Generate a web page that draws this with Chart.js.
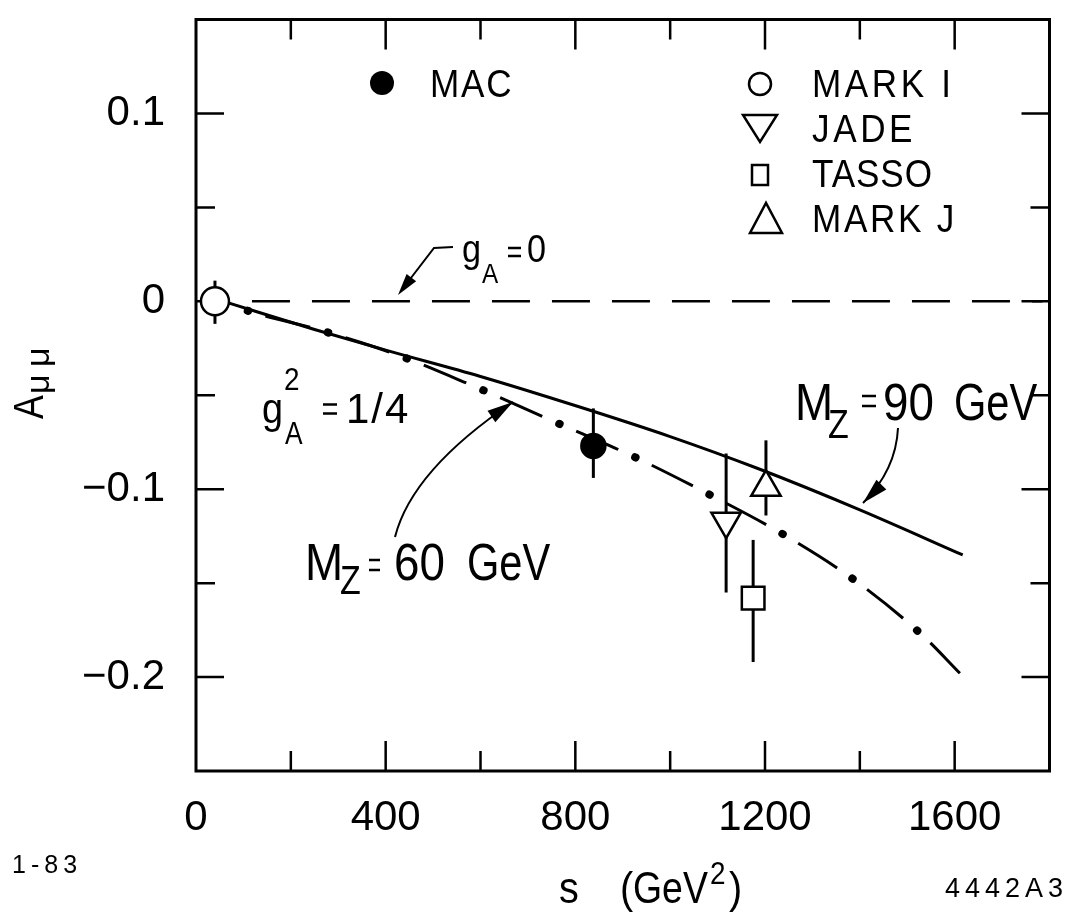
<!DOCTYPE html>
<html>
<head>
<meta charset="utf-8">
<script src="https://cdn.jsdelivr.net/npm/chart.js@4.4.1/dist/chart.umd.min.js"></script>
<style>
html, body { margin: 0; padding: 0; background: #fff; }
#wrap { width: 1069px; height: 915px; }
</style>
</head>
<body>
<div id="wrap"><canvas id="c"></canvas></div>
<script>
// axis ticks
var xTickVals = [0, 400, 800, 1200, 1600];
var xMinor = [200, 600, 1000, 1400];
var yTickVals = [0.1, 0, -0.1, -0.2];
var yMinor = [0.05, -0.05, -0.15];

var expNames = ['MARK I', 'MAC', 'JADE', 'TASSO', 'MARK J'];
var expS  = [40, 838, 1118, 1175, 1202];
var expA  = [0.0, -0.077, -0.117, -0.158, -0.099];
var expHi = [0.011, -0.057, -0.081, -0.127, -0.074];
var expLo = [-0.012, -0.094, -0.155, -0.192, -0.114];

// curves
var mz90S = [70, 250, 400, 600, 806, 1000, 1185, 1400, 1617];
var mz90A = [-0.001, -0.015, -0.026, -0.040, -0.056, -0.072, -0.089, -0.111, -0.135];
var mz60S = [70, 109, 257, 419, 575, 737, 926, 1084, 1238, 1392, 1533, 1611];
var mz60A = [-0.001, -0.005, -0.015, -0.028, -0.044, -0.062, -0.083, -0.103, -0.124, -0.149, -0.178, -0.198];
var ga0S = [118, 1785];
var ga0A = [0, 0];

var FONT = '"Liberation Sans", Arial, Helvetica, sans-serif';

function pts(xs, ys) {
    var out = [];
    for (var i = 0; i < xs.length; i++) out.push({x: xs[i], y: ys[i]});
    return out;
}

function txt(ctx, s, x, y, size, sx, sp) {
    ctx.save();
    ctx.font = size + 'px ' + FONT;
    ctx.letterSpacing = (sp || 0) + 'px';
    ctx.textAlign = 'left';
    ctx.textBaseline = 'alphabetic';
    ctx.translate(x, y);
    ctx.scale(sx || 1, 1);
    ctx.fillText(s, 0, 0);
    ctx.restore();
}

// short two-bar equals sign like the lettering set
function eq(ctx, x, yc, w, gap) {
    ctx.save();
    ctx.lineWidth = 2.5;
    ctx.beginPath();
    ctx.moveTo(x, yc - gap / 2); ctx.lineTo(x + w, yc - gap / 2);
    ctx.moveTo(x, yc + gap / 2); ctx.lineTo(x + w, yc + gap / 2);
    ctx.stroke();
    ctx.restore();
}

function head(ctx, x, y, ang, len, w) {
    ctx.beginPath();
    ctx.moveTo(x, y);
    ctx.lineTo(x - len * Math.cos(ang) + w * Math.sin(ang), y - len * Math.sin(ang) - w * Math.cos(ang));
    ctx.lineTo(x - len * Math.cos(ang) - w * Math.sin(ang), y - len * Math.sin(ang) + w * Math.cos(ang));
    ctx.closePath();
    ctx.fill();
}

function curveArrow(ctx, x0, y0, cx, cy, x1, y1) {
    ctx.beginPath();
    ctx.moveTo(x0, y0);
    ctx.quadraticCurveTo(cx, cy, x1, y1);
    ctx.stroke();
    head(ctx, x1, y1, Math.atan2(y1 - cy, x1 - cx), 26, 7);
}

var figPlugin = {
    id: 'fig',
    beforeDatasetsDraw: function(chart) {
        var ctx = chart.ctx, xs = chart.scales.x, ys = chart.scales.y, a = chart.chartArea;
        ctx.save();
        ctx.strokeStyle = '#000';
        ctx.lineWidth = 3;
        ctx.strokeRect(a.left, a.top, a.right - a.left, a.bottom - a.top);
        ctx.lineWidth = 2.5;
        xTickVals.concat(xMinor).forEach(function(v) {
            if (v === 0) return;
            var L = xMinor.indexOf(v) >= 0 ? 20 : 30;
            var px = xs.getPixelForValue(v);
            ctx.beginPath();
            ctx.moveTo(px, a.bottom); ctx.lineTo(px, a.bottom - L);
            ctx.moveTo(px, a.top); ctx.lineTo(px, a.top + L);
            ctx.stroke();
        });
        yTickVals.concat(yMinor).forEach(function(v) {
            var L = yMinor.indexOf(v) >= 0 ? 19 : 28;
            var py = ys.getPixelForValue(v);
            ctx.beginPath();
            ctx.moveTo(a.left, py); ctx.lineTo(a.left + L, py);
            ctx.moveTo(a.right, py); ctx.lineTo(a.right - L, py);
            ctx.stroke();
        });
        // error bars
        ctx.lineWidth = 3;
        for (var i = 0; i < expS.length; i++) {
            var px = xs.getPixelForValue(expS[i]);
            ctx.beginPath();
            ctx.moveTo(px, ys.getPixelForValue(expHi[i]));
            ctx.lineTo(px, ys.getPixelForValue(expLo[i]));
            ctx.stroke();
        }
        ctx.restore();
    },
    afterDraw: function(chart) {
        var ctx = chart.ctx;
        ctx.save();
        ctx.fillStyle = '#000';
        ctx.strokeStyle = '#000';

        // legend
        ctx.beginPath(); ctx.arc(382, 83, 12, 0, Math.PI * 2); ctx.fill();
        txt(ctx, expNames[1], 430, 97, 39, 0.9, 2);

        ctx.lineWidth = 2.5;
        ctx.beginPath(); ctx.arc(760, 84, 11, 0, Math.PI * 2); ctx.stroke();
        ctx.beginPath(); ctx.moveTo(743, 115); ctx.lineTo(777, 115); ctx.lineTo(760, 142); ctx.closePath(); ctx.stroke();
        ctx.strokeRect(752, 165, 16, 20);
        ctx.beginPath(); ctx.moveTo(750, 233); ctx.lineTo(782, 233); ctx.lineTo(766, 203); ctx.closePath(); ctx.stroke();
        txt(ctx, expNames[0], 812, 97, 39, 0.9, 4);
        txt(ctx, expNames[2], 812, 142, 39, 0.9, 4);
        txt(ctx, expNames[3], 812, 187, 39, 0.9, 1);
        txt(ctx, expNames[4], 812, 232, 39, 0.9, 3);

        // g_A = 0
        txt(ctx, 'g', 462, 262, 38, 0.9);
        txt(ctx, 'A', 482, 283, 27, 0.9);
        eq(ctx, 508, 252, 13, 8);
        txt(ctx, '0', 527, 262, 38, 0.9);
        ctx.lineWidth = 2;
        ctx.beginPath(); ctx.moveTo(453, 247); ctx.lineTo(434, 248); ctx.lineTo(404, 287); ctx.stroke();
        head(ctx, 398, 295, Math.atan2(295 - 248, 398 - 434), 22, 6);

        // g_A^2 = 1/4
        txt(ctx, 'g', 262, 423, 42, 0.9);
        txt(ctx, '2', 284, 390, 31, 0.9);
        txt(ctx, 'A', 285, 444, 31, 0.85);
        eq(ctx, 323, 409, 14, 9);
        txt(ctx, '1/4', 346, 423, 42, 1, 2);

        // M_Z = 60 GeV
        txt(ctx, 'M', 305, 580, 52, 0.88);
        txt(ctx, 'Z', 340, 594, 40, 0.85);
        eq(ctx, 369, 565, 11, 10);
        txt(ctx, '60', 394, 580, 52, 0.88);
        txt(ctx, 'GeV', 467, 580, 52, 0.8);
        curveArrow(ctx, 395, 537, 412, 470, 513, 402);

        // M_Z = 90 GeV
        txt(ctx, 'M', 795, 420, 52, 0.88);
        txt(ctx, 'Z', 828, 438, 40, 0.85);
        eq(ctx, 862, 401, 14, 10);
        txt(ctx, '90', 883, 420, 52, 0.88);
        txt(ctx, 'GeV', 954, 420, 52, 0.8);
        curveArrow(ctx, 898, 428, 896, 470, 863, 503);

        // axis titles
        txt(ctx, 's', 559, 903, 44, 0.9);
        txt(ctx, '(', 620, 903, 44, 0.9);
        txt(ctx, 'GeV', 633, 903, 44, 0.85);
        txt(ctx, '2', 710, 884, 31, 0.9);
        txt(ctx, ')', 729, 903, 44, 0.9);

        ctx.save();
        ctx.translate(43, 419);
        ctx.rotate(-Math.PI / 2);
        txt(ctx, 'A', 0, 0, 42, 0.85);
        txt(ctx, '\u03bc', 25, 6, 34, 1);
        txt(ctx, '\u03bc', 52, 6, 34, 1);
        ctx.restore();

        txt(ctx, '1-83', 12, 873, 25, 1, 5);
        txt(ctx, '4442A3', 945, 897, 27, 1, 5);
        ctx.restore();
    }
};

var ctx = document.getElementById('c').getContext('2d');
var chart = new Chart(ctx, {
    type: 'scatter',
    data: {
        datasets: [
            {
                label: 'data',
                data: pts(expS, expA),
                showLine: false,
                pointStyle: ['circle', 'circle', 'triangle', 'rect', 'triangle'],
                pointRotation: [0, 0, 180, 0, 0],
                pointRadius: [14, 12, 17, 16, 17],
                pointBackgroundColor: ['#fff', '#000', '#fff', '#fff', '#fff'],
                pointBorderColor: '#000',
                pointBorderWidth: 2.5,
                order: 0
            },
            {
                label: 'MZ=90',
                data: pts(mz90S, mz90A),
                showLine: true,
                pointRadius: 0,
                borderColor: '#000',
                borderWidth: 3,
                cubicInterpolationMode: 'monotone',
                order: 1
            },
            {
                label: 'MZ=60 dashes',
                data: pts(mz60S, mz60A),
                showLine: true,
                pointRadius: 0,
                borderColor: '#000',
                borderWidth: 3,
                borderDash: [46, 37],
                borderDashOffset: 44.5,
                cubicInterpolationMode: 'monotone',
                order: 2
            },
            {
                label: 'MZ=60 dots',
                data: pts(mz60S, mz60A),
                showLine: true,
                pointRadius: 0,
                borderColor: '#000',
                borderWidth: 8,
                borderCapStyle: 'round',
                borderDash: [0.5, 82.5],
                borderDashOffset: 63,
                cubicInterpolationMode: 'monotone',
                order: 2
            },
            {
                label: 'gA=0',
                data: pts(ga0S, ga0A),
                showLine: true,
                pointRadius: 0,
                borderColor: '#000',
                borderWidth: 2.5,
                borderDash: [38, 22],
                order: 3
            }
        ]
    },
    options: {
        responsive: true,
        maintainAspectRatio: false,
        animation: false,
        devicePixelRatio: 1,
        layout: { padding: { top: 11, right: 16, left: 0, bottom: 0 } },
        plugins: { legend: { display: false }, tooltip: { enabled: false } },
        scales: {
            x: {
                type: 'linear', min: 0, max: 1800,
                grid: { display: false, drawTicks: false },
                border: { display: false },
                afterBuildTicks: function(s) { s.ticks = xTickVals.map(function(v) { return {value: v}; }); },
                afterFit: function(s) { s.height = 144; s.paddingLeft = 0; s.paddingRight = 0; },
                ticks: {
                    color: '#000', padding: 22, maxRotation: 0,
                    font: { family: FONT, size: 42 },
                    callback: function(v) { return String(v); }
                }
            },
            y: {
                type: 'linear', min: -0.25, max: 0.15,
                grid: { display: false, drawTicks: false },
                border: { display: false },
                afterBuildTicks: function(s) { s.ticks = yTickVals.map(function(v) { return {value: v}; }); },
                afterFit: function(s) { s.width = 196; s.paddingTop = 0; s.paddingBottom = 0; },
                ticks: {
                    color: '#000', padding: 31,
                    font: { family: FONT, size: 42 },
                    callback: function(v) {
                        if (Math.abs(v) < 1e-9) return '0';
                        return (v < 0 ? '\u2212' : '') + Math.abs(v).toFixed(1);
                    }
                }
            }
        }
    },
    plugins: [figPlugin]
});
</script>
</body>
</html>
